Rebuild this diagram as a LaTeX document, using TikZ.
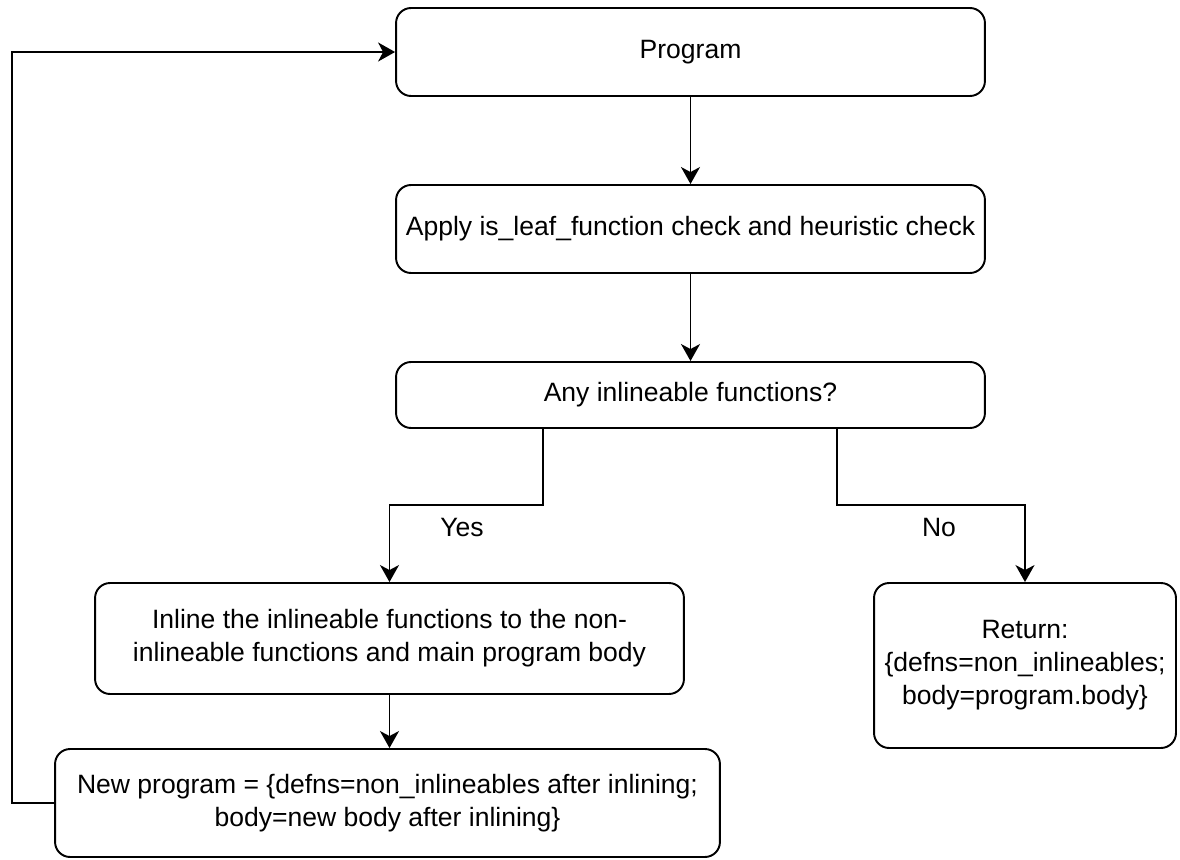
\documentclass[tikz,border=0pt]{standalone}
\usepackage{fontspec}
\setmainfont{Liberation Sans}
\usetikzlibrary{arrows.meta}

\begin{document}
\begin{tikzpicture}[x=0.02cm,y=-0.02cm,
    box/.style={draw,line width=1.1pt,rounded corners=0.3cm,align=center,
      inner sep=0pt,font=\fontsize{15.1}{18.8}\selectfont},
    flow/.style={line width=1.1pt,-{Stealth[length=0.34cm,width=0.38cm,inset=0.1cm]}},
    lbl/.style={font=\fontsize{15.1}{18.8}\selectfont}]
  \useasboundingbox (0,0) rectangle (1180,859);
  % main column
  \node[box,minimum width=11.78cm,minimum height=1.76cm] (program) at (690.5,52) {Program};
  \node[box,minimum width=11.78cm,minimum height=1.76cm] (apply) at (690.5,229)
    {Apply is\_leaf\_function check and heuristic check};
  \node[box,minimum width=11.78cm,minimum height=1.32cm] (anyinl) at (690.5,395)
    {Any inlineable functions?};
  % yes branch (left)
  \node[box,minimum width=11.78cm,minimum height=2.22cm] (inline) at (389.5,638.5)
    {Inline the inlineable functions to the non-\\inlineable functions and main program body};
  \node[box,minimum width=13.3cm,minimum height=2.16cm] (newprog) at (387.5,803)
    {New program = \{defns=non\_inlineables after inlining;\\body=new body after inlining\}};
  % no branch (right)
  \node[box,minimum width=6.04cm,minimum height=3.3cm] (ret) at (1025,665.5)
    {Return:\\\{defns=non\_inlineables;\\body=program.body\}};
  % bends and loop corner
  \coordinate (yesbend) at (543,505);
  \coordinate (nobend) at (837,505);
  \coordinate (loop) at (12,0);
  \node[lbl] (yes) at (462,527) {Yes};
  \node[lbl] (no) at (939,527) {No};
  % connectors
  \draw[flow] (program) -- (apply);
  \draw[flow] (apply) -- (anyinl);
  \draw[flow] (anyinl.south -| yesbend) -- (yesbend) -| (inline.north);
  \draw[flow] (anyinl.south -| nobend) -- (nobend) -| (ret.north);
  \draw[flow] (inline.south) -- (inline.south |- newprog.north);
  \draw[flow] (newprog.west) -- (newprog.west -| loop) |- (program.west);
\end{tikzpicture}
\end{document}
